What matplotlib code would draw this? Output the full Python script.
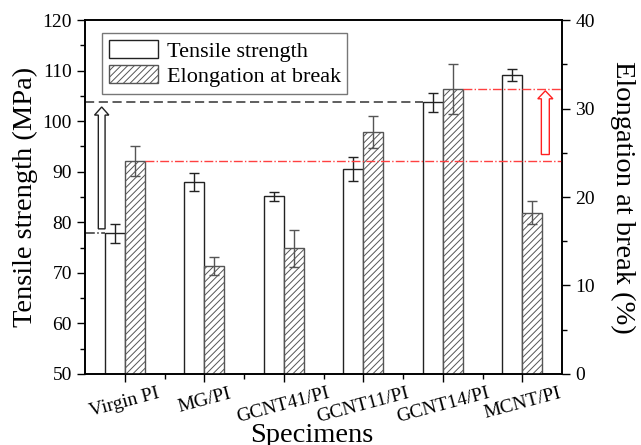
import numpy as np
import matplotlib
matplotlib.use('Agg')
import matplotlib.pyplot as plt
from matplotlib.patches import FancyArrow
from matplotlib.ticker import MultipleLocator, FixedLocator

plt.rcParams['font.family'] = ['Liberation Serif', 'DejaVu Serif']
plt.rcParams['hatch.linewidth'] = 0.7

# data
specimens = ['Virgin PI', 'MG/PI', 'GCNT41/PI', 'GCNT11/PI', 'GCNT14/PI', 'MCNT/PI']
tensile = [77.8, 87.9, 85.1, 90.5, 103.7, 109.1]
tensile_err = [1.8, 1.75, 0.9, 2.4, 1.85, 1.2]
elong = [24.1, 12.2, 14.2, 27.3, 32.2, 18.2]
elong_err = [1.7, 1.0, 2.1, 1.8, 2.8, 1.3]

x = np.arange(1, len(specimens) + 1)
w = 0.25

fig = plt.figure(figsize=(6.41, 4.45), dpi=100)
ax1 = fig.add_axes([0.1326, 0.1596, 0.7442, 0.7954])
ax2 = ax1.twinx()

b1 = ax1.bar(x - w / 2, tensile, w, yerr=tensile_err, color='white',
             edgecolor='#222222', linewidth=1.0, label='Tensile strength',
             error_kw=dict(ecolor='#222222', elinewidth=1.0, capsize=3.5, capthick=1.0))
b2 = ax2.bar(x + w / 2, elong, w, yerr=elong_err, color='white',
             edgecolor='#555555', hatch='/////', linewidth=1.0,
             label='Elongation at break',
             error_kw=dict(ecolor='#555555', elinewidth=1.0, capsize=3.5, capthick=1.0))

# reference lines
ax1.plot([0.5, 5 - w], [tensile[4], tensile[4]], ls=(0, (6, 3)), color='#333333', lw=1.1)
ax1.plot([0.5, 1 - w], [tensile[0], tensile[0]], ls='-.', color='#333333', lw=1.1)
ax2.plot([1 + w, 6.5], [elong[0], elong[0]], ls='-.', color='#ff4040', lw=1.0)
ax2.plot([5 + w, 6.5], [elong[4], elong[4]], ls='-.', color='#ff4040', lw=1.0)

# hollow arrows
ax1.add_patch(FancyArrow(0.71, 78.7, 0, 24.1, width=0.085, head_width=0.18,
                         head_length=1.6, length_includes_head=True,
                         fc='white', ec='#222222', lw=1.0, zorder=5))
ax2.add_patch(FancyArrow(6.29, 24.8, 0, 7.2, width=0.1, head_width=0.19,
                         head_length=0.9, length_includes_head=True,
                         fc='white', ec='#ff2020', lw=1.0, zorder=5))

ax1.set_xlim(0.5, 6.5)
ax1.set_ylim(50, 120)
ax2.set_ylim(0, 40)

ax1.set_xticks(x)
ax1.set_xticklabels(specimens, rotation=15, ha='center', fontsize=14)
ax1.xaxis.set_minor_locator(FixedLocator(x[:-1] + 0.5))
ax1.yaxis.set_major_locator(MultipleLocator(10))
ax1.yaxis.set_minor_locator(MultipleLocator(5))
ax2.yaxis.set_major_locator(MultipleLocator(10))
ax2.yaxis.set_minor_locator(MultipleLocator(5))

for ax in (ax1, ax2):
    ax.tick_params(which='major', direction='out', length=6, width=1.0, labelsize=14)
    ax.tick_params(which='minor', direction='out', length=3.5, width=1.0)
    for s in ax.spines.values():
        s.set_linewidth(1.2)
ax1.tick_params(axis='x', pad=2)

ax1.set_ylabel('Tensile strength (MPa)', fontsize=20.5, labelpad=3)
ax2.set_ylabel('Elongation at break (%)', fontsize=20.5, rotation=270, labelpad=29)
ax1.set_xlabel('Specimens', fontsize=20.5)
ax1.xaxis.set_label_coords(0.476, -0.138)

leg = ax1.legend(handles=[b1, b2], loc='upper left', bbox_to_anchor=(0.036, 0.963),
                 borderaxespad=0, fancybox=False, edgecolor='#555555', fontsize=16,
                 handlelength=2.2, handleheight=0.9, borderpad=0.3,
                 labelspacing=0.15, handletextpad=0.4)
leg.get_frame().set_linewidth(1.0)

fig.savefig('out.png', dpi=100)
